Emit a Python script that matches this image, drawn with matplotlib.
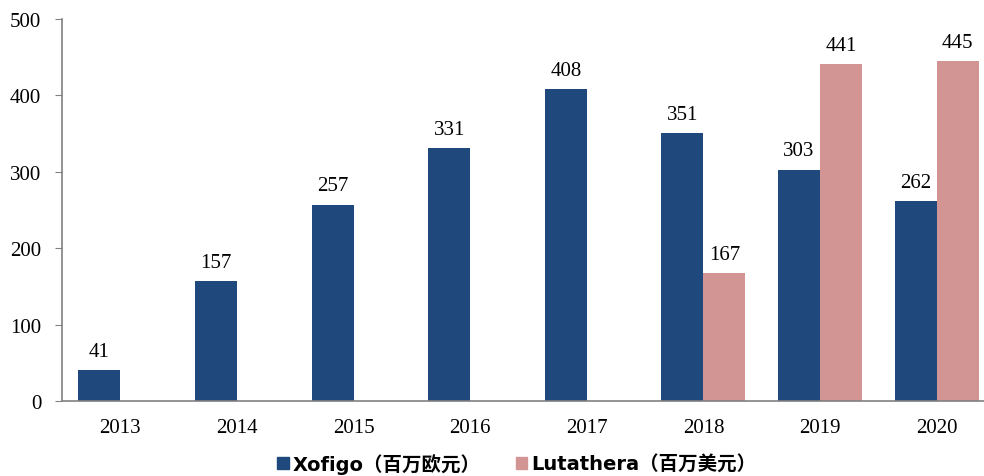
import numpy as np
import matplotlib.pyplot as plt
from matplotlib.patches import Patch

years = ["2013", "2014", "2015", "2016", "2017", "2018", "2019", "2020"]
xofigo = [41, 157, 257, 331, 408, 351, 303, 262]
lutathera = [None, None, None, None, None, 167, 441, 445]

blue = "#1F497D"
pink = "#D39594"

plt.rcParams['font.family'] = ['Liberation Serif']

fig = plt.figure(figsize=(9.84, 4.77), dpi=100)
ax = fig.add_axes([62 / 984, 1 - 402 / 477, 933 / 984, 382 / 477])

x = np.arange(len(years))
w = 0.36
ax.bar(x - w / 2, xofigo, w, color=blue)
for xi, v in zip(x, xofigo):
    ax.text(xi - w / 2, v + 12, str(v), ha="center", va="bottom", fontsize=15)

idx = [i for i, v in enumerate(lutathera) if v is not None]
lv = [lutathera[i] for i in idx]
ax.bar(x[idx] + w / 2, lv, w, color=pink)
for xi, v in zip(x[idx], lv):
    ax.text(xi + w / 2, v + 12, str(v), ha="center", va="bottom", fontsize=15)

ax.set_xlim(-0.5, 7.5)
ax.set_ylim(0, 500)
ax.set_yticks(range(0, 501, 100))
ax.set_xticks(x)
ax.set_xticklabels(years)
ax.tick_params(axis="x", length=0, labelsize=15, pad=12)
ax.tick_params(axis="y", length=5, color="#808080", labelsize=15, pad=10)
for s in ["top", "right"]:
    ax.spines[s].set_visible(False)
for s in ["left", "bottom"]:
    ax.spines[s].set_color("#808080")
    ax.spines[s].set_linewidth(1.2)

handles = [Patch(color=blue), Patch(color=pink)]
fig.legend(handles, ["Xofigo（百万欧元）", "Lutathera（百万美元）"],
           loc="center", bbox_to_anchor=(0.525, 0.026), ncol=2, frameon=False,
           handlelength=0.6, handleheight=0.6, handletextpad=0.2, columnspacing=1.8,
           prop={"family": ["DejaVu Sans", "Noto Sans CJK SC"], "weight": "bold", "size": 14})

fig.savefig("out.png", dpi=100)
